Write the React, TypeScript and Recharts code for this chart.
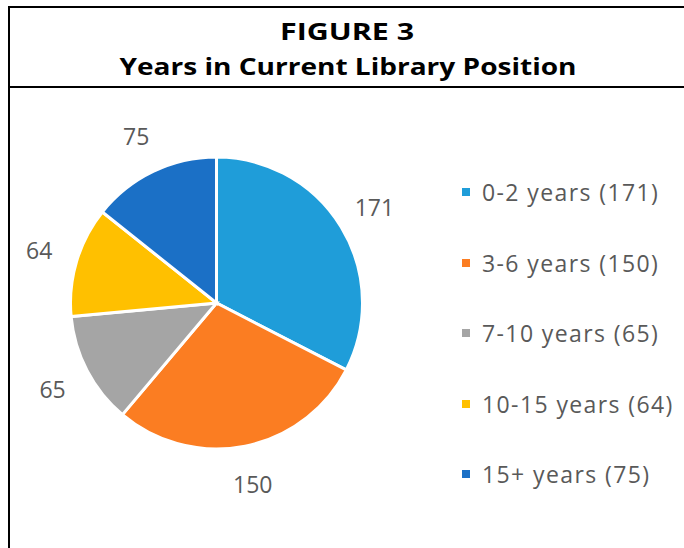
import React from "react";
import { PieChart, Pie, Cell } from "recharts";

const categories = ["0-2 years", "3-6 years", "7-10 years", "10-15 years", "15+ years"];
const values = [171, 150, 65, 64, 75];
const colors = ["#1f9dd9", "#fb7d22", "#a5a5a5", "#ffc000", "#1b70c6"];
const titleLines = ["FIGURE 3", "Years in Current Library Position"];

const data = categories.map((name, i) => ({ name, value: values[i] }));

const RAD = Math.PI / 180;
const renderLabel = (props: any) => {
  const { cx, cy, midAngle, value } = props;
  const r = 185;
  const x = cx + r * Math.cos(-midAngle * RAD);
  const y = cy + r * Math.sin(-midAngle * RAD);
  return (
    <text
      x={x}
      y={y}
      fill="#595959"
      fontSize={23}
      fontFamily="'Open Sans', 'Noto Sans', sans-serif"
      textAnchor="middle"
      dominantBaseline="central"
    >
      {value}
    </text>
  );
};

function LegendBlock() {
  return (
    <div style={{ position: "absolute", left: 462, top: 157, display: "flex", flexDirection: "column" }}>
      {categories.map((c, i) => (
        <div
          key={c}
          style={{
            height: 70.5,
            display: "flex",
            alignItems: "center",
            fontFamily: "'Open Sans', 'Noto Sans', sans-serif",
            fontSize: 23,
            letterSpacing: 1.4,
            color: "#595959",
            whiteSpace: "nowrap",
          }}
        >
          <span style={{ width: 8, height: 8, background: colors[i], display: "inline-block", marginRight: 12 }} />
          <span>{`${c} (${values[i]})`}</span>
        </div>
      ))}
    </div>
  );
}

export default function App() {
  return (
    <div style={{ position: "absolute", left: 0, top: 0, width: 684, height: 548, background: "#fff" }}>
      <svg width={684} height={548} style={{ position: "absolute", left: 0, top: 0 }}>
        <line x1={9} y1={7} x2={684} y2={7} stroke="#000" strokeWidth={2} />
        <line x1={9} y1={6} x2={9} y2={548} stroke="#000" strokeWidth={2} />
        <line x1={9} y1={87} x2={684} y2={87} stroke="#000" strokeWidth={2} />
        <text
          x={347}
          y={40}
          textAnchor="middle"
          fontFamily="'Open Sans', 'Liberation Sans', sans-serif"
          fontWeight="bold"
          fontSize={23}
          textLength={134}
          lengthAdjust="spacingAndGlyphs"
          fill="#000"
        >
          {titleLines[0]}
        </text>
        <text
          x={348}
          y={75}
          textAnchor="middle"
          fontFamily="'Open Sans', 'Liberation Sans', sans-serif"
          fontWeight="bold"
          fontSize={23}
          textLength={457}
          lengthAdjust="spacingAndGlyphs"
          fill="#000"
        >
          {titleLines[1]}
        </text>
      </svg>
      <div style={{ position: "absolute", left: 0, top: 0 }}>
        <PieChart width={684} height={548} margin={{ top: 0, right: 0, bottom: 0, left: 0 }}>
          <Pie
            data={data}
            dataKey="value"
            nameKey="name"
            cx={216.5}
            cy={303}
            outerRadius={146}
            startAngle={90}
            endAngle={-270}
            stroke="#ffffff"
            strokeWidth={3}
            label={renderLabel}
            labelLine={false}
            isAnimationActive={false}
          >
            {data.map((d, i) => (
              <Cell key={d.name} fill={colors[i]} />
            ))}
          </Pie>
        </PieChart>
      </div>
      <LegendBlock />
    </div>
  );
}
